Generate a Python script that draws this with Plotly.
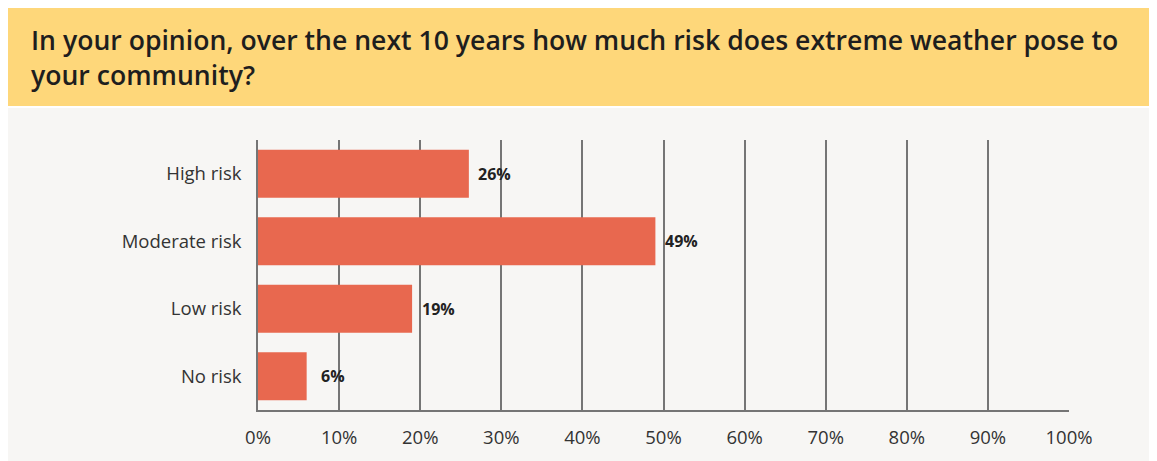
import plotly.graph_objects as go

categories = ["High risk", "Moderate risk", "Low risk", "No risk"]
shares = [26, 49, 19, 6]
tick_vals = [0, 10, 20, 30, 40, 50, 60, 70, 80, 90, 100]
tick_text = [f"{v}%" for v in tick_vals]
title = ("In your opinion, over the next 10 years how much risk does extreme weather pose to"
         "<br>your community?")

# the page adds an 8px body margin, so the figure is 8px smaller than the window
W, H = 1149, 453
L, R, T, B = 250, 88, 132, 51
pw, ph = W - L - R, H - T - B


# pixel -> paper helpers for the header / panel shapes
def px_x(x):
    return (x - L) / pw


def px_y(y):
    return (H - B - y) / ph


fig = go.Figure()

fig.add_trace(go.Bar(
    y=categories,
    x=shares,
    orientation="h",
    marker=dict(color="#E8684F", line=dict(width=0)),
    hoverinfo="skip",
))

# value labels, centred a fixed distance right of each bar end
for cat, val in zip(categories, shares):
    fig.add_annotation(
        x=val, y=cat, text=f"<b>{val}%</b>", showarrow=False,
        xanchor="center", xshift=26,
        font=dict(family="Open Sans", size=16, color="#222222"),
    )

# yellow header band and light panel behind the chart
fig.add_shape(type="rect", xref="paper", yref="paper", layer="below",
              x0=px_x(0), x1=px_x(W + 5), y0=px_y(98), y1=px_y(-1),
              fillcolor="#FED77A", line=dict(width=0))
fig.add_shape(type="rect", xref="paper", yref="paper", layer="below",
              x0=px_x(0), x1=px_x(W + 5), y0=px_y(H + 5), y1=px_y(100),
              fillcolor="#F7F6F4", line=dict(width=0))

fig.add_annotation(
    xref="paper", yref="paper", x=px_x(21), y=px_y(12),
    xanchor="left", yanchor="top", align="left", showarrow=False,
    text=title,
    font=dict(family="Open Sans", size=26.6, color="#1E1E1E", weight=600),
)

fig.update_layout(
    width=W, height=H,
    margin=dict(l=L, r=R, t=T, b=B, pad=0),
    paper_bgcolor="white",
    plot_bgcolor="rgba(0,0,0,0)",
    bargap=0.29,
    showlegend=False,
    font=dict(family="Open Sans", size=18.5, color="#333333"),
)

fig.update_xaxes(
    range=[0, 100], tickvals=tick_vals, ticktext=tick_text,
    showgrid=True, gridcolor="#757575", gridwidth=1.5,
    showline=True, linecolor="#757575", linewidth=1.5,
    zeroline=False, ticks="", ticklabelstandoff=10,
    tickfont=dict(size=18.5, color="#333333"), fixedrange=True,
)
fig.update_yaxes(
    categoryorder="array", categoryarray=categories[::-1],
    range=[-0.5, 3.5], showgrid=False, zeroline=False,
    showline=True, linecolor="#757575", linewidth=1.5,
    ticks="", ticklabelstandoff=11,
    tickfont=dict(size=18.5, color="#333333"), fixedrange=True,
)

fig.write_html("out.html")
